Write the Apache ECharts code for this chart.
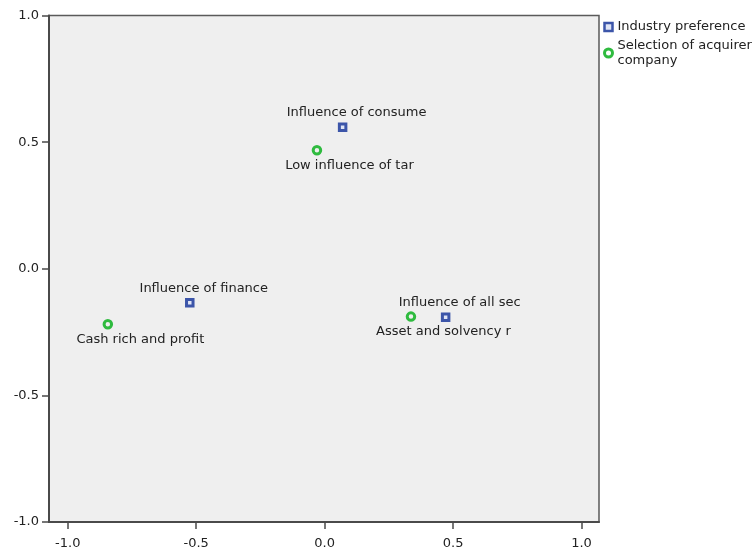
<!DOCTYPE html>
<html>
<head>
<meta charset="utf-8">
<script src="https://cdn.jsdelivr.net/npm/echarts@6/dist/echarts.min.js"></script>
<style>
  html, body { margin: 0; padding: 0; background: #ffffff; }
  #chart { width: 754px; height: 550px; }
</style>
</head>
<body>
<div id="chart"></div>
<script>
// Category points: [dimension 1, dimension 2, label]
const seriesNames = ['Industry preference', 'Selection of acquirer company'];

const industryPreference = [
  [0.070, 0.559, 'Influence of consume'],
  [-0.525, -0.134, 'Influence of finance'],
  [0.471, -0.192, 'Influence of all sec']
];

const acquirerSelection = [
  [-0.030, 0.468, 'Low influence of tar'],
  [-0.844, -0.219, 'Cash rich and profit'],
  [0.336, -0.189, 'Asset and solvency r']
];

const xTicks = [-1.0, -0.5, 0.0, 0.5, 1.0];

const FONT = 'DejaVu Sans';
const BLUE = '#3c55a9';
const GREEN = '#2fbb3f';
const PLOT_BG = '#efefef';

const chart = echarts.init(document.getElementById('chart'), null, { renderer: 'canvas' });

const axisCommon = {
  axisLine: { show: true, onZero: false, lineStyle: { color: '#4a4a4a', width: 2 } },
  axisTick: { show: true, inside: false, length: 7, lineStyle: { color: '#4a4a4a', width: 1.5 } },
  splitLine: { show: false },
  axisLabel: {
    color: '#222',
    fontFamily: FONT,
    fontSize: 13,
    formatter: v => Number(v).toFixed(1)
  }
};

chart.setOption({
  animation: false,
  backgroundColor: '#ffffff',
  textStyle: { fontFamily: FONT },
  grid: {
    left: 49, top: 15.5, width: 550, height: 508,
    show: true,
    backgroundColor: PLOT_BG,
    borderColor: '#5a5a5a',
    borderWidth: 1.5
  },
  xAxis: Object.assign({}, axisCommon, {
    type: 'value',
    min: -1.073,
    max: 1.068,
    axisTick: Object.assign({}, axisCommon.axisTick, { customValues: xTicks }),
    axisLabel: Object.assign({}, axisCommon.axisLabel, { customValues: xTicks, margin: 15 })
  }),
  yAxis: Object.assign({}, axisCommon, {
    type: 'value',
    min: -1,
    max: 1,
    interval: 0.5,
    axisLabel: Object.assign({}, axisCommon.axisLabel, { margin: 10 })
  }),
  legend: {
    orient: 'vertical',
    left: 603,
    top: 19.5,
    itemWidth: 8,
    itemHeight: 8,
    itemGap: 3.5,
    padding: 0,
    textStyle: { color: '#222', fontFamily: FONT, fontSize: 13, lineHeight: 15 },
    formatter: name => name === seriesNames[1] ? 'Selection of acquirer\ncompany' : name,
    data: [
      { name: seriesNames[0], icon: 'rect',
        itemStyle: { color: '#dfe4f5', borderColor: BLUE, borderWidth: 2.5 } },
      { name: seriesNames[1], icon: 'circle',
        itemStyle: { color: '#ffffff', borderColor: GREEN, borderWidth: 3 } }
    ]
  },
  series: [
    {
      name: seriesNames[0],
      type: 'scatter',
      symbol: 'rect',
      symbolSize: 6.5,
      itemStyle: { color: '#dfe4f5', borderColor: BLUE, borderWidth: 3, opacity: 1 },
      label: {
        show: true,
        position: 'inside',
        offset: [14, -14.5],
        align: 'center',
        verticalAlign: 'middle',
        formatter: p => p.data[2],
        color: '#222',
        fontFamily: FONT,
        fontSize: 13
      },
      data: industryPreference
    },
    {
      name: seriesNames[1],
      type: 'scatter',
      symbol: 'circle',
      symbolSize: 7.5,
      itemStyle: { color: PLOT_BG, borderColor: GREEN, borderWidth: 3, opacity: 1 },
      label: {
        show: true,
        position: 'inside',
        offset: [32.5, 15],
        align: 'center',
        verticalAlign: 'middle',
        formatter: p => p.data[2],
        color: '#222',
        fontFamily: FONT,
        fontSize: 13
      },
      data: acquirerSelection
    }
  ]
});
</script>
</body>
</html>
